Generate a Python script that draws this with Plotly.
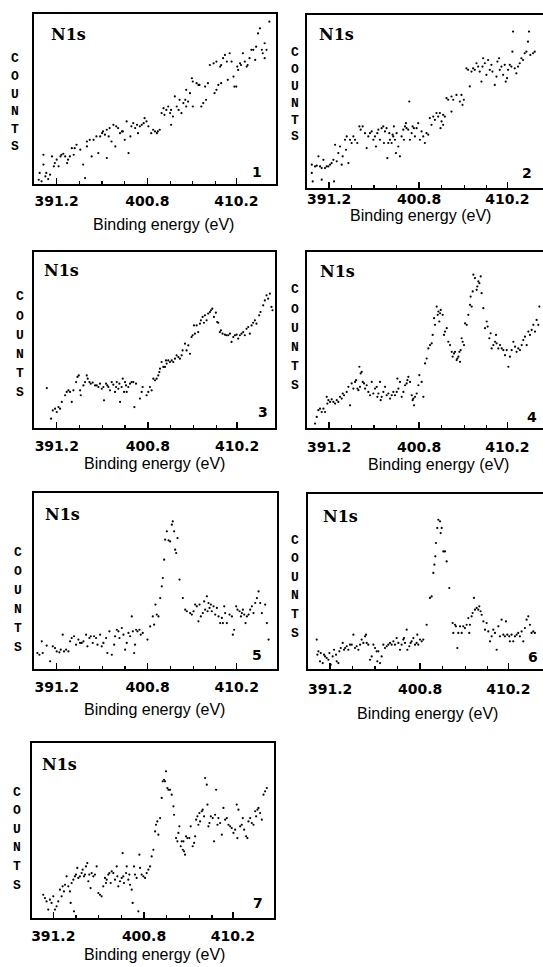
import plotly.graph_objects as go

W, H = 543, 967

# ---------------- data (binding energy in eV, counts in arbitrary units 0-100) ----------------
X1 = [389.3,389.4,389.6,389.8,389.8,390.0,390.1,390.3,390.5,390.7,390.9,391.0,391.2,391.4,391.6,391.7,391.9,392.1,392.3,392.4,
      392.6,392.8,393.0,393.1,393.3,393.7,394.0,394.2,394.4,394.4,394.7,394.9,395.1,395.4,395.6,395.8,396.0,396.1,396.3,396.5,
      396.5,396.7,396.8,397.0,397.2,397.4,397.5,397.7,397.9,398.1,398.2,398.4,398.6,398.8,399.0,399.1,399.3,399.5,399.7,399.8,
      400.0,400.2,400.4,400.5,400.7,400.9,401.2,401.4,401.6,401.8,401.9,402.1,402.3,402.5,402.6,402.8,403.0,403.2,403.3,403.3,
      403.5,403.7,403.9,404.1,404.2,404.4,404.6,404.8,404.9,404.9,405.1,405.3,405.5,405.6,405.6,406.0,406.2,406.3,406.5,406.7,
      406.9,407.0,407.2,407.4,407.8,407.9,408.1,408.1,408.3,408.5,408.6,408.6,408.8,409.0,409.2,409.3,409.5,409.7,409.9,410.0,
      410.2,410.3,410.4,410.6,410.7,410.9,411.1,411.3,411.4,411.6,411.8,412.0,412.2,412.3,412.5,412.7,412.9,413.0,413.2,413.2,
      413.4,413.7]
Y1 = [2.5,6.5,1.6,11.4,17.2,4.5,6.5,2.9,5.5,16.2,10.4,12.3,14.3,10.4,16.2,17.2,17.8,16.2,12.3,14.3,
      16.2,21.1,17.2,21.1,23.1,20.2,11.4,3.5,22.1,25.0,26.0,16.2,26.0,28.0,18.2,28.0,29.9,30.9,29.0,31.9,
      15.3,28.0,32.9,25.0,34.8,22.1,33.9,32.9,29.9,30.9,30.9,26.0,36.8,18.2,28.0,33.9,35.8,32.9,34.8,29.9,
      33.9,34.8,35.8,38.7,36.8,33.9,29.9,31.9,30.9,29.9,30.9,31.9,41.7,44.6,40.7,43.6,45.6,41.7,43.6,34.8,
      39.7,51.5,45.6,43.6,49.5,41.7,47.6,49.5,55.4,45.6,48.5,53.4,62.2,60.3,45.6,59.3,58.3,58.3,45.6,47.6,
      57.3,49.5,59.3,70.0,71.0,53.4,72.0,55.4,58.3,69.1,70.0,59.3,74.0,75.9,72.0,61.3,76.9,72.0,63.2,57.3,
      57.3,69.1,67.1,71.0,70.0,76.9,72.0,69.1,70.0,74.0,78.9,78.9,73.0,80.8,88.6,91.6,78.9,76.9,82.8,74.0,
      78.9,95.5]

X2 = [389.36,389.36,389.46,389.71,389.89,390.07,390.24,390.42,390.42,390.6,390.77,390.95,391.13,391.31,391.48,391.66,391.73,391.84,392.02,392.19,
      392.37,392.55,392.65,392.9,393.01,393.08,393.26,393.43,393.61,393.79,393.97,394.21,394.43,394.57,394.78,395.03,395.21,395.38,395.56,395.74,
      395.92,396.09,396.2,396.34,396.45,396.63,396.8,396.98,397.05,397.16,397.33,397.41,397.51,397.62,397.69,397.87,397.97,398.04,398.11,398.22,
      398.33,398.4,398.58,398.75,398.93,399.11,399.18,399.29,399.39,399.46,399.64,399.75,399.82,400.0,400.1,400.24,400.35,400.53,400.7,400.88,
      401.06,401.24,401.41,401.59,401.77,401.94,402.12,402.3,402.48,402.65,402.83,403.01,403.08,403.19,403.36,403.36,403.54,403.72,403.9,404.25,
      404.25,404.43,404.78,405.14,405.31,405.42,405.56,405.84,406.02,406.2,406.38,406.55,406.73,406.91,407.09,407.26,407.44,407.55,407.62,407.8,
      407.97,408.15,408.33,408.5,408.61,408.86,409.04,409.14,409.32,409.39,409.57,409.75,409.92,410.03,410.17,410.28,410.46,410.63,410.74,410.81,
      410.99,411.16,411.34,411.52,411.7,411.87,412.05,412.23,412.4,412.51,412.65,412.94,413.12]
Y2 = [13.5,8.7,3.8,12.5,12.9,18.3,12.5,11.5,4.8,16.3,11.5,12.5,12.5,13.5,14.4,16.3,3.8,25.0,15.4,20.2,
      24.0,13.5,18.3,27.9,22.1,29.8,14.4,27.9,26.0,29.8,27.9,26.0,35.6,33.7,35.6,31.7,23.1,29.8,31.7,32.7,
      27.9,29.8,24.0,31.7,33.7,27.9,34.6,35.6,26.0,32.7,34.6,17.3,26.0,31.7,27.9,26.0,30.8,29.8,35.6,27.9,
      20.2,31.7,24.0,18.3,29.8,33.7,27.9,35.6,37.5,34.6,33.7,50.0,27.9,31.7,35.6,34.6,29.8,34.6,37.5,27.9,
      32.7,29.8,26.0,31.7,30.8,40.4,36.5,41.3,39.4,43.3,41.3,43.3,34.6,38.5,42.3,36.5,41.3,51.9,51.0,52.9,
      44.2,51.0,53.8,50.0,53.8,48.1,51.0,69.2,68.3,58.7,67.3,69.2,68.3,72.1,70.2,67.3,61.5,70.2,75.0,72.1,
      65.4,74.0,68.3,71.2,67.3,59.6,64.4,73.1,75.0,68.3,70.2,65.4,71.2,61.5,63.5,68.3,71.2,70.2,78.8,90.4,
      69.2,66.3,70.2,72.1,75.0,74.0,77.9,78.8,84.6,90.4,76.9,77.9,78.8]

X3 = [390.15,390.6,390.78,391.02,391.2,391.38,391.55,391.73,392.08,392.25,392.43,392.6,392.78,392.95,393.24,393.38,393.52,393.66,393.73,394.01,
      394.18,394.36,394.46,394.64,394.78,394.99,395.24,395.41,395.59,395.76,395.94,396.11,396.18,396.39,396.53,396.64,396.81,396.99,397.16,397.34,
      397.45,397.52,397.69,397.8,397.87,398.04,398.15,398.29,398.39,398.5,398.57,398.74,398.92,399.09,399.27,399.38,399.55,399.97,400.15,400.25,
      400.67,400.85,401.02,401.2,401.38,401.55,401.73,401.9,402.01,402.08,402.25,402.43,402.6,402.71,402.78,402.95,403.13,403.31,403.48,403.66,
      403.83,404.01,404.18,404.36,404.46,404.71,404.88,405.06,405.24,405.41,405.52,405.66,405.76,405.94,406.11,406.29,406.39,406.57,406.71,406.81,
      406.99,407.16,407.34,407.45,407.59,407.76,407.97,408.11,408.22,408.39,408.5,408.67,408.92,409.09,409.27,409.45,409.62,409.8,409.97,410.15,
      410.32,410.5,410.67,410.85,411.02,411.2,411.38,411.55,411.73,411.9,412.08,412.25,412.53,412.67,412.96,413.13,413.31,413.48,413.66,413.83,
      413.94]
Y3 = [22.7,5.3,10.0,11.0,9.1,11.9,11.0,14.8,18.6,20.5,21.4,20.5,14.8,21.4,26.1,29.0,29.9,21.4,18.6,24.2,
      26.1,29.9,28.0,26.1,25.2,25.8,24.2,24.2,23.3,25.2,22.3,23.3,15.7,25.2,24.2,23.3,21.4,26.1,24.6,20.5,
      23.3,26.1,22.3,25.2,14.8,23.3,28.0,20.5,26.1,24.2,20.5,23.3,25.2,26.1,26.1,11.9,25.2,16.7,20.5,23.3,
      18.6,20.5,23.3,21.4,28.0,27.1,28.0,29.9,31.8,33.7,37.5,34.7,34.7,38.4,36.6,38.4,37.5,38.4,37.5,39.4,
      41.3,40.3,39.4,41.3,44.1,47.9,44.1,47.0,42.2,51.7,52.7,58.3,53.6,58.3,54.5,59.3,61.2,63.1,59.8,64.0,
      61.2,65.0,65.9,66.9,67.8,63.1,65.5,60.2,59.8,54.5,55.5,53.6,53.0,52.7,52.7,53.6,48.9,51.7,52.7,53.0,
      50.8,52.7,53.6,54.5,52.7,56.4,57.4,53.6,58.3,59.8,61.2,59.3,64.0,65.9,69.7,72.5,75.4,73.5,76.3,68.8,
      66.9]

X4 = [389.71,389.89,390.06,390.24,390.42,390.6,390.77,390.95,391.02,391.13,391.31,391.48,391.66,391.84,392.02,392.19,392.37,392.55,392.66,392.8,
      393.08,393.26,393.44,393.61,393.79,393.97,394.08,394.22,394.33,394.43,394.5,394.57,394.68,394.79,394.93,395.04,395.21,395.39,395.57,395.75,
      395.92,396.1,396.28,396.35,396.46,396.63,396.7,396.81,396.99,397.17,397.34,397.52,397.7,397.88,398.05,398.23,398.41,398.48,398.59,398.76,
      398.94,399.12,399.3,399.47,399.55,399.65,399.83,400.01,400.11,400.18,400.26,400.36,400.54,400.72,400.82,401.07,401.25,401.43,401.6,401.78,
      401.96,402.14,402.24,402.39,402.49,402.67,402.78,402.85,402.95,403.03,403.1,403.31,403.45,403.56,403.74,403.91,404.09,404.27,404.37,404.52,
      404.62,404.8,404.87,404.98,405.09,405.16,405.23,405.33,405.44,405.58,405.69,405.87,406.04,406.22,406.29,406.4,406.51,406.58,406.75,406.93,
      407.0,407.11,407.22,407.36,407.46,407.64,407.82,408.0,408.1,408.28,408.42,408.53,408.71,408.89,408.99,409.06,409.24,409.42,409.6,409.77,
      409.95,410.13,410.31,410.48,410.66,410.84,411.02,411.19,411.37,411.55,411.73,411.9,412.08,412.26,412.44,412.61,412.79,412.97,413.15,413.32,
      413.5,413.61]
Y4 = [2.5,6.3,10.1,11.0,9.1,11.0,9.1,17.7,13.9,15.8,14.8,16.3,14.8,13.9,15.8,14.8,17.7,16.7,19.6,18.6,
      20.5,23.4,12.9,25.3,22.4,26.2,27.2,22.4,21.5,34.8,23.4,31.0,31.9,26.2,25.3,22.4,24.3,20.5,18.6,26.2,
      19.6,22.4,23.4,17.7,19.6,26.2,15.8,17.7,20.5,23.4,18.6,19.6,16.7,18.6,20.5,18.6,20.5,28.1,22.4,26.2,
      17.7,20.5,24.3,25.3,27.2,29.1,26.2,18.6,15.8,16.7,12.9,17.7,19.6,24.3,30.0,26.2,17.7,36.7,39.5,45.2,
      47.1,48.1,52.9,62.4,58.6,69.0,64.3,66.2,60.5,65.2,67.1,64.3,52.9,54.8,56.7,49.0,47.1,43.3,40.5,42.4,
      43.3,38.6,39.5,40.5,43.3,37.6,44.3,51.0,49.0,47.1,59.5,58.6,64.3,70.0,74.7,69.0,77.6,87.1,85.2,78.5,
      80.4,83.3,82.3,86.1,76.6,68.1,56.7,60.5,57.6,51.0,53.8,45.2,47.1,49.0,52.9,48.1,45.2,47.1,45.2,44.3,
      41.4,44.3,34.8,40.5,44.3,49.0,46.2,43.3,45.2,44.3,47.1,50.0,51.9,47.1,54.8,52.9,55.7,58.6,54.8,61.4,
      58.6,69.0]

X5 = [389.16,389.37,389.62,389.72,390.14,390.5,390.78,391.02,391.2,391.48,391.62,391.83,391.97,392.19,392.43,392.61,392.78,393.03,393.24,393.49,
      393.66,393.84,394.02,394.3,394.44,394.65,394.79,395.0,395.14,395.35,395.5,395.78,395.95,396.13,396.41,396.55,396.76,397.01,397.26,397.36,
      397.54,397.71,397.82,398.07,398.24,398.42,398.59,398.77,398.95,399.12,399.23,399.37,399.47,399.58,399.72,399.93,400.07,400.28,400.78,401.06,
      401.34,401.48,401.62,401.76,401.94,402.12,402.29,402.4,402.54,402.64,402.82,403.0,403.17,403.35,403.45,403.59,403.7,403.81,403.95,404.16,
      404.51,404.76,404.93,405.28,405.46,405.64,405.81,405.99,406.16,406.27,406.41,406.62,406.76,406.87,407.05,407.12,407.22,407.33,407.47,407.57,
      407.75,407.93,408.1,408.28,408.45,408.63,408.74,408.88,408.98,409.16,409.44,409.69,409.79,409.93,410.14,410.28,410.5,410.64,410.74,410.85,
      410.99,411.13,411.27,411.45,411.62,411.8,411.97,412.15,412.33,412.5,412.68,412.85,413.2,413.38,413.56]
Y5 = [9.1,8.1,15.7,9.1,13.3,4.4,12.9,11.9,10.0,9.5,11.0,19.5,10.0,11.0,10.0,15.7,17.6,18.6,13.8,16.7,
      14.8,14.8,15.7,19.5,12.9,17.6,18.6,14.8,18.6,17.6,13.8,19.5,12.9,14.8,17.6,9.1,21.4,8.1,13.8,18.6,
      22.3,21.4,17.6,23.3,19.5,11.0,14.8,20.5,18.6,29.9,21.4,9.1,13.8,22.3,21.4,22.3,19.5,20.5,16.7,24.2,
      29.9,25.2,36.6,30.9,29.9,40.3,47.0,51.7,62.1,73.5,78.2,73.1,72.5,82.0,83.9,78.2,67.8,65.9,74.4,50.8,
      40.3,33.7,32.8,31.8,30.9,32.8,36.6,35.6,27.1,36.6,29.9,31.8,38.4,33.7,41.3,32.8,37.5,34.7,36.6,32.8,
      35.6,30.9,34.7,29.9,26.1,29.0,26.1,35.6,31.8,26.1,30.9,29.9,19.5,22.3,35.6,33.7,32.8,29.9,31.8,33.7,
      30.9,26.1,29.9,30.9,33.7,35.6,31.8,37.5,40.3,44.1,37.5,31.8,36.6,26.1,16.7]

X6 = [389.78,389.85,389.96,390.13,390.21,390.42,390.56,390.67,390.84,391.02,391.13,391.27,391.48,391.63,391.84,391.91,392.09,392.19,392.34,392.55,
      392.69,392.8,392.98,393.15,393.33,393.51,393.69,393.86,394.04,394.22,394.4,394.57,394.75,394.93,395.04,395.11,395.28,395.46,395.64,395.82,
      396.0,396.17,396.24,396.35,396.53,396.7,396.88,397.06,397.24,397.41,397.59,397.77,397.95,398.12,398.3,398.48,398.66,398.83,399.01,399.08,
      399.19,399.37,399.44,399.65,399.79,399.9,400.08,400.26,400.43,400.5,400.61,400.79,400.97,401.14,401.5,401.85,402.03,402.21,402.32,402.42,
      402.49,402.63,402.74,402.92,402.99,403.1,403.27,403.45,403.63,403.91,404.27,404.34,404.52,404.62,404.77,404.87,405.05,405.23,405.4,405.58,
      405.76,405.94,406.04,406.11,406.29,406.4,406.54,406.65,406.83,407.0,407.11,407.25,407.36,407.54,407.72,407.89,408.07,408.25,408.43,408.6,
      408.78,408.96,409.14,409.31,409.49,409.67,409.84,409.95,410.09,410.3,410.37,410.55,410.73,410.91,411.09,411.26,411.44,411.62,411.8,411.97,
      412.15,412.33,412.51,412.68,412.86,413.04]
Y6 = [16.8,8.2,10.1,4.4,9.1,3.4,8.2,7.2,6.3,5.3,9.1,2.5,7.2,11.0,8.2,4.4,3.4,10.1,12.0,14.9,
      11.0,12.0,13.0,11.0,13.9,13.9,19.6,12.0,13.0,11.0,13.9,16.8,14.9,18.7,19.6,14.9,13.9,5.3,7.2,13.9,
      12.0,10.1,4.4,10.1,3.4,7.2,13.9,12.0,13.0,13.9,14.9,13.9,15.8,13.9,17.7,14.9,11.0,13.9,16.8,17.7,
      14.9,22.5,11.0,13.0,14.9,15.8,17.7,13.9,14.9,19.6,13.9,16.8,15.8,16.8,25.3,40.6,41.5,54.9,59.6,64.4,
      72.0,80.6,85.3,84.4,77.7,80.6,67.2,67.2,61.5,46.3,26.3,20.6,25.3,24.4,12.0,20.6,24.4,20.6,24.4,23.4,
      25.3,29.1,20.6,25.3,30.1,32.0,40.6,33.9,34.9,33.9,35.8,33.0,31.0,27.2,22.5,26.3,21.5,15.8,18.7,22.5,
      20.6,11.0,24.4,18.7,28.2,19.6,18.7,27.2,19.6,18.7,15.8,19.6,15.8,18.7,19.6,20.6,18.7,21.5,15.8,23.4,
      28.2,30.1,25.3,20.6,21.5,20.6]

X7 = [390.14,390.32,390.49,390.67,390.85,391.02,391.2,391.38,391.55,391.73,391.91,392.08,392.19,392.33,392.44,392.61,392.79,392.96,393.04,393.14,
      393.32,393.39,393.49,393.6,393.74,393.85,394.02,394.2,394.31,394.45,394.55,394.66,394.8,394.91,395.01,395.15,395.26,395.44,395.61,395.79,
      395.97,396.14,396.32,396.49,396.67,396.78,396.85,397.02,397.13,397.27,397.38,397.55,397.73,397.91,397.98,398.08,398.26,398.44,398.54,398.61,
      398.68,398.9,398.97,399.14,399.25,399.32,399.5,399.6,399.74,399.85,400.02,400.2,400.31,400.38,400.55,400.73,400.91,401.08,401.26,401.44,
      401.61,401.79,401.97,402.07,402.21,402.32,402.5,402.67,402.78,402.92,403.02,403.13,403.27,403.38,403.55,403.73,403.91,403.98,404.19,404.33,
      404.44,404.54,404.68,404.79,404.9,404.97,405.04,405.14,405.25,405.39,405.6,405.74,405.95,406.1,406.2,406.31,406.45,406.55,406.66,406.73,
      406.91,407.01,407.15,407.26,407.44,407.51,407.61,407.72,407.86,408.07,408.21,408.32,408.43,408.57,408.67,408.85,409.03,409.2,409.38,409.56,
      409.73,409.91,410.08,410.26,410.44,410.61,410.68,410.79,410.97,411.14,411.25,411.39,411.6,411.74,411.85,412.03,412.2,412.38,412.56,412.66,
      412.8,412.91,413.08,413.26,413.44,413.61,413.79]
Y7 = [13.3,11.4,9.5,4.8,10.5,8.6,12.4,4.8,6.7,9.5,16.2,12.4,18.1,15.2,19.0,23.8,18.1,15.2,8.6,20.0,
      21.9,3.8,23.8,24.8,28.6,22.9,23.8,25.7,27.6,23.8,24.8,29.5,31.4,21.0,24.8,17.1,25.7,23.8,24.8,29.5,
      14.3,13.3,12.4,18.1,22.9,20.0,21.9,24.8,25.7,20.0,26.7,25.7,21.9,29.5,23.8,18.1,21.0,22.9,37.1,23.8,
      20.0,25.7,29.5,21.9,24.8,19.0,16.2,8.6,29.5,24.8,22.9,3.8,36.2,28.6,24.8,23.8,22.9,25.7,27.6,29.5,
      35.2,39.0,49.5,53.3,55.2,47.6,57.1,68.6,78.1,79.0,78.1,83.8,74.3,73.3,73.3,70.5,63.8,59.0,45.7,43.8,
      48.6,52.4,41.0,43.8,39.0,43.8,38.1,36.2,46.7,45.7,45.7,52.4,41.0,42.9,46.7,56.2,58.1,53.3,60.0,55.2,
      61.0,61.9,58.1,80.0,76.2,64.8,52.4,54.3,58.1,57.1,43.8,59.0,73.3,53.3,57.1,54.3,47.6,62.9,56.2,57.1,
      53.3,52.4,51.4,48.6,50.5,64.8,45.7,61.9,52.4,53.3,57.1,50.5,46.7,45.7,55.2,57.1,54.3,53.3,61.0,58.1,
      61.9,62.9,60.0,56.2,70.5,72.4,74.3]

PANEL_NUMBERS = ["1", "2", "3", "4", "5", "6", "7"]
MAJOR_TICKS = [391.2, 400.8, 410.2]
MAJOR_TEXT = ["391.2", "400.8", "410.2"]
MINOR_TICKS = [393.6, 396.0, 398.4, 403.2, 405.6, 408.0]
SPECTRUM_LABEL = "N1s"
Y_LABEL = "COUNTS"
X_LABEL = "Binding energy (eV)"

XS = [X1, X2, X3, X4, X5, X6, X7]
YS = [Y1, Y2, Y3, Y4, Y5, Y6, Y7]

# ---------------- layout geometry (pixels) ----------------
# frame: left, right, top, bottom
BOXES = [(34, 276, 14, 184), (307, 543, 15, 188),
         (34, 275, 252, 428), (307, 543, 252, 428),
         (34, 277, 493, 669), (308, 543, 494, 669),
         (32, 274, 743, 918)]
XRANGES = [(388.8, 414.4), (388.85, 414.0), (388.8, 414.2), (388.85, 414.0),
           (388.8, 414.45), (388.85, 413.9), (388.95, 414.55)]
RIGHT_COLUMN = [False, True, False, True, False, True, False]
LABEL_SHIFT = [4, -2, 5, 6, 5, 7, 5]
N1S_POS = [(68, 34), (336, 34), (61, 271), (337, 272), (62, 514), (340, 516), (59, 764)]
NUM_POS = [(257, 172), (527, 173), (263, 412), (532, 417), (257, 655), (533, 657), (258, 903)]
COUNTS_POS = [(15, 59, 147), (295, 53, 137), (20, 297, 392), (295, 290, 385),
              (18, 552, 647), (295, 540, 633), (17, 792, 885)]
TITLE_POS = [(163, 225), (420, 216), (154, 463), (438, 464), (154, 709), (427, 713), (154, 954)]


def px(x):
    return x / W


def py(y):
    return 1 - y / H


fig = go.Figure()
layout = dict(width=W, height=H, autosize=False, showlegend=False,
              margin=dict(l=0, r=0, t=0, b=0),
              paper_bgcolor="white", plot_bgcolor="white")
annotations = []

for i in range(7):
    n = i + 1
    xa = "x" if n == 1 else f"x{n}"
    ya = "y" if n == 1 else f"y{n}"
    fig.add_trace(go.Scatter(x=XS[i], y=YS[i], mode="markers", xaxis=xa, yaxis=ya,
                             marker=dict(color="black", size=2.2, line=dict(width=0)),
                             hoverinfo="skip"))
    l, r, t, b = BOXES[i]
    layout["xaxis" if n == 1 else f"xaxis{n}"] = dict(
        domain=[px(l), min(px(r), 1.0)], anchor=ya, range=list(XRANGES[i]),
        showgrid=False, zeroline=False, showline=True, linecolor="black", linewidth=1.6,
        mirror=True, ticks="inside", ticklen=6, tickwidth=1.4, tickcolor="black",
        tickmode="array", tickvals=MAJOR_TICKS, ticktext=MAJOR_TEXT,
        ticklabelstandoff=LABEL_SHIFT[i],
        tickfont=dict(family="DejaVu Sans", size=14, color="black", weight="bold"),
        minor=dict(tickmode="array", tickvals=MINOR_TICKS, ticks="inside", ticklen=3,
                   tickwidth=1.2, tickcolor="black", showgrid=False),
    )
    layout["yaxis" if n == 1 else f"yaxis{n}"] = dict(
        domain=[py(b), py(t)], anchor=xa, range=[0, 100],
        showgrid=False, zeroline=False, showline=True, linecolor="black", linewidth=1.6,
        mirror=not RIGHT_COLUMN[i], ticks="", showticklabels=False,
    )
    annotations.append(dict(text=f"<b>{SPECTRUM_LABEL}</b>", x=px(N1S_POS[i][0]), y=py(N1S_POS[i][1]),
                            xref="paper", yref="paper", xanchor="center", yanchor="middle",
                            showarrow=False, font=dict(family="DejaVu Serif", size=16, color="black")))
    annotations.append(dict(text=f"<b>{PANEL_NUMBERS[i]}</b>", x=px(NUM_POS[i][0]), y=py(NUM_POS[i][1]),
                            xref="paper", yref="paper", xanchor="center", yanchor="middle",
                            showarrow=False, font=dict(family="DejaVu Sans", size=14, color="black")))
    cx, c0, c1 = COUNTS_POS[i]
    step = (c1 - c0) / (len(Y_LABEL) - 1)
    for k, ch in enumerate(Y_LABEL):
        annotations.append(dict(text=f"<b>{ch}</b>", x=px(cx), y=py(c0 + k * step),
                                xref="paper", yref="paper", xanchor="center", yanchor="middle",
                                showarrow=False,
                                font=dict(family="Liberation Mono", size=13, color="black")))
    annotations.append(dict(text=X_LABEL, x=px(TITLE_POS[i][0]), y=py(TITLE_POS[i][1]),
                            xref="paper", yref="paper", xanchor="center", yanchor="middle",
                            showarrow=False, font=dict(family="Liberation Sans", size=16, color="black")))

layout["annotations"] = annotations
fig.update_layout(**layout)
fig.write_html("out.html", config={"displayModeBar": False, "staticPlot": True},
               post_script="document.body.style.margin='0';document.body.style.overflow='hidden';")
